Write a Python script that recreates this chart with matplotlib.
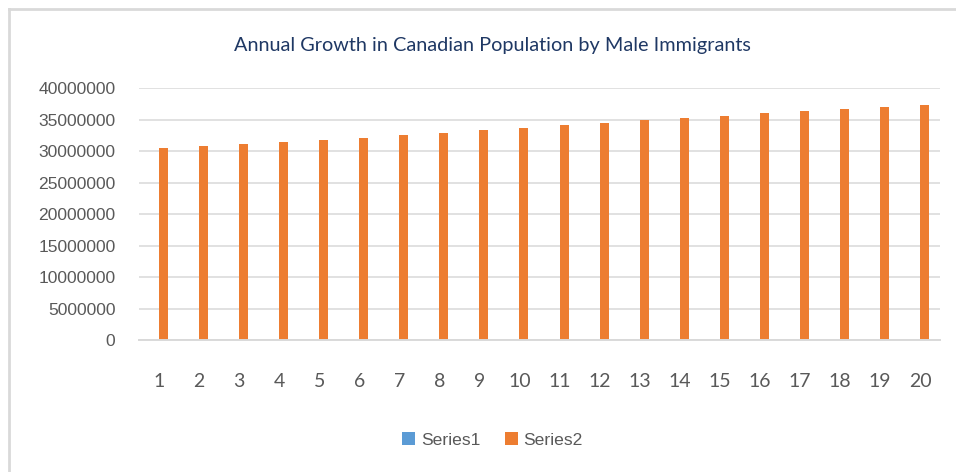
import matplotlib.pyplot as plt
import matplotlib.ticker as mticker
from matplotlib.lines import Line2D
import numpy as np

labels = [str(i) for i in range(1, 21)]
series1 = [2000, 2001, 2002, 2003, 2004, 2005, 2006, 2007, 2008, 2009,
           2010, 2011, 2012, 2013, 2014, 2015, 2016, 2017, 2018, 2019]
series2 = [30560000, 30880000, 31150000, 31520000, 31780000, 32150000, 32530000,
           32950000, 33320000, 33740000, 34170000, 34530000, 34910000, 35230000,
           35650000, 36030000, 36390000, 36710000, 37030000, 37390000]

blue = "#5B9BD5"
orange = "#ED7D31"
grid = "#D9D9D9"
text_grey = "#595959"

fig = plt.figure(figsize=(9.56, 4.72), dpi=100)
ax = fig.add_axes([139 / 956, 1 - 340 / 472, 801 / 956, 251.7 / 472])

x = np.arange(len(labels))
w = 0.225
ax.bar(x - w / 2, series1, w, color=blue, label="Series1")
ax.bar(x + w / 2, series2, w, color=orange, label="Series2", zorder=3)

ax.set_xlim(-0.5, len(labels) - 0.5)
ax.set_ylim(0, 40000000)
ax.set_yticks(np.arange(0, 40000001, 5000000))
ax.yaxis.set_major_formatter(mticker.StrMethodFormatter("{x:.0f}"))
ax.set_xticks(x)
ax.set_xticklabels(labels)

for s in ["top", "right", "left"]:
    ax.spines[s].set_visible(False)
ax.spines["bottom"].set_color(grid)
ax.spines["bottom"].set_linewidth(1.4)
ax.spines["bottom"].set_zorder(4)
ax.grid(axis="y", color=grid, linewidth=1.1, zorder=0)
ax.set_axisbelow(True)
ax.tick_params(length=0)
ax.tick_params(axis="y", pad=17, labelsize=12.6, labelcolor=text_grey)
ax.tick_params(axis="x", pad=24, labelsize=14, labelcolor=text_grey)
for t in ax.get_yticklabels():
    t.set_fontfamily("Liberation Sans")
for t in ax.get_xticklabels():
    t.set_fontfamily("Lato")

fig.text(0.515, 1 - 45 / 472, "Annual Growth in Canadian Population by Male Immigrants",
         ha="center", va="center", fontsize=14.3, color="#1F3864", family="Lato")

handles, names = ax.get_legend_handles_labels()
fig.legend(handles, names, loc="center", bbox_to_anchor=(0.515, 1 - 440 / 472),
           ncol=2, frameon=False, handlelength=0.75, handleheight=0.75,
           handletextpad=0.3, columnspacing=1.4,
           prop={"family": "Liberation Sans", "size": 12.6}, labelcolor=text_grey)

# light chart-area frame along the top and left edges
fig.add_artist(Line2D([9 / 956, 1], [1 - 9 / 472, 1 - 9 / 472], color=grid, lw=2))
fig.add_artist(Line2D([9 / 956, 9 / 956], [0, 1 - 9 / 472], color=grid, lw=2))

fig.savefig("out.png", dpi=100)
